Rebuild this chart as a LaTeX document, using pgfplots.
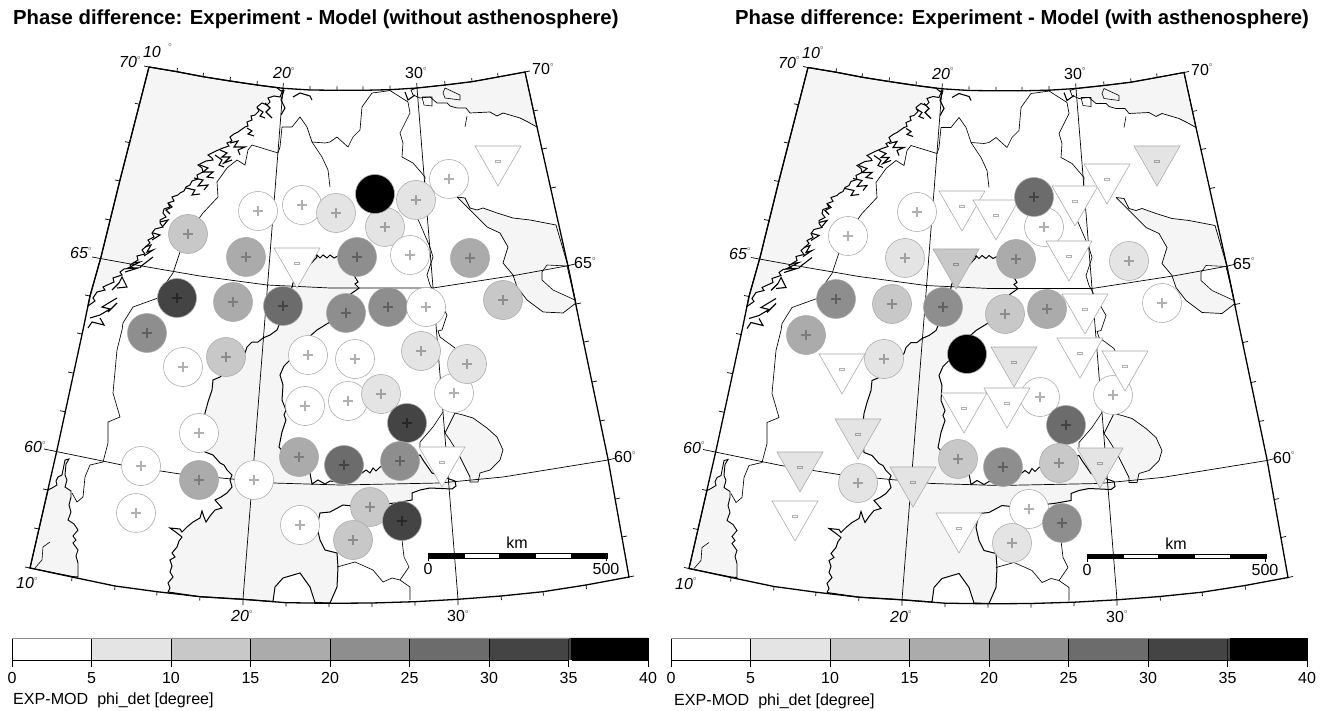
\documentclass[border=0pt]{standalone}
\usepackage{pgfplots}
\usepackage{pgfplotstable}
\usepackage{fontspec}
\setmainfont{Liberation Sans}
\pgfplotsset{compat=1.18}
\definecolor{sea}{HTML}{F5F5F5}
\definecolor{L0}{HTML}{FFFFFF}\definecolor{L1}{HTML}{E4E4E4}\definecolor{L2}{HTML}{C8C8C8}\definecolor{L3}{HTML}{ABABAB}
\definecolor{L4}{HTML}{8E8E8E}\definecolor{L5}{HTML}{6C6C6C}\definecolor{L6}{HTML}{444444}\definecolor{L7}{HTML}{000000}
\definecolor{S0}{HTML}{B0B0B0}\definecolor{S1}{HTML}{A0A0A0}\definecolor{S2}{HTML}{8C8C8C}\definecolor{S3}{HTML}{7C7C7C}
\definecolor{S4}{HTML}{606060}\definecolor{S5}{HTML}{444444}\definecolor{S6}{HTML}{262626}\definecolor{S7}{HTML}{000000}
\definecolor{edge}{HTML}{A8A8A8}
\newcommand\defmarks[3]{%
 \pgfdeclareplotmark{c#1}{%
  \pgfsetlinewidth{0.55pt}\pgfsetstrokecolor{edge}\pgfsetfillcolor{#2}%
  \pgfpathcircle{\pgfpointorigin}{19.5pt}\pgfusepath{fill,stroke}%
  \pgfsetstrokecolor{#3}\pgfsetlinewidth{1.5pt}%
  \pgfpathmoveto{\pgfpoint{-5pt}{0pt}}\pgfpathlineto{\pgfpoint{5pt}{0pt}}%
  \pgfpathmoveto{\pgfpoint{0pt}{-5pt}}\pgfpathlineto{\pgfpoint{0pt}{5pt}}\pgfusepath{stroke}}%
 \pgfdeclareplotmark{t#1}{%
  \pgfsetlinewidth{0.55pt}\pgfsetstrokecolor{edge}\pgfsetfillcolor{#2}%
  \pgfpathmoveto{\pgfpoint{-23pt}{15pt}}\pgfpathlineto{\pgfpoint{23pt}{15pt}}\pgfpathlineto{\pgfpoint{0pt}{-25pt}}\pgfpathclose\pgfusepath{fill,stroke}%
  \pgfsetstrokecolor{#3}\pgfsetlinewidth{0.6pt}%
  \pgfpathrectangle{\pgfpoint{-2.4pt}{-1.1pt}}{\pgfpoint{4.8pt}{2.2pt}}\pgfusepath{stroke}}}
\defmarks{0}{L0}{S0}\defmarks{1}{L1}{S1}\defmarks{2}{L2}{S2}\defmarks{3}{L3}{S3}
\defmarks{4}{L4}{S4}\defmarks{5}{L5}{S5}\defmarks{6}{L6}{S6}\defmarks{7}{L7}{S7}

\pgfplotstableread{
x y
149 67
177 71.7
203 76.7
230 81
257 85
277 87.7
281 91
283 90
280 97
274 96
268 98
270 102
267 105
262 103
257 107
259 111
255 115
251 116
252 120
247 122
248 126
245 127
238 132
234 134
230 137
232 141
227 143
229 146
223 148
216 151
208 155
212 158
213 160
206 161
198 165
202 168
203 172
197 175
198 179
192 181
190 185
186 187
184 191
180 193
178 195
172 197
174 201
168 203
170 207
164 209
163 213
166 217
160 220
160 223
163 227
155 229
152 233
154 237
148 240
150 243
142 250
145 254
137 256
138 260
130 265
133 268
124 269
120 272
122 275
113 278
114 282
103 287
105 290
97 292
93 298
95 301
88 306
90 296
101 257
120 180
149 67
}\Norway
\pgfplotstableread{
x y
48 490
52 488
57 485
56 481
58 477
62 475
63 470
65 460
69 459
66 464
65 475
67 480
65 487
71 491
71 497
69 505
71 512
68 520
74 524
78 530
73 536
76 540
73 543
78 550
76 556
78 563
78 577
72 576.5
30 568
48 490
}\Skag
\pgfplotstableread{
x y
168 592
170 588
168 583
173 577
170 572
172 566
170 560
175 557
172 553
177 547
179 541
182 537
177 533
170 528
180 529
182 532
187 527
193 522
200 518
202 511
204 517
206 522
210 516
215 510
222 508
215 500
221 497
227 493
232 487
230 480
232 475
227 470
224 465
220 463
213 455
205 452
203 432
205 413
208 402
210 396
212 390
213 380
220 377
226 372
233 365
240 358
245 353
247 347
252 342
258 342
263 338
270 335
277 330
285 310
290 295
293 283
305 270
317 257
316 254
320 258
323 255
327 258
330 255
334 258
338 256
345 258
355 277
358 282
355 284
359 288
355 291
352 293
340 303
330 322
317 330
300 345
295 352
290 360
284 366
280 375
283 385
282 400
286 410
284 415
286 420
282 432
279 447
290 460
310 473
312 484
318 480
325 484
330 481
338 482
345 480
362 473
366 470
370 473
373 468
376 471
380 467
400 460
420 455
423 460
432 473
455 481
456 486
452 489
430 488
420 490
412 493
412 500
395 503
375 505
360 502
352 506
343 505
330 512
320 513
317 527
320 540
325 550
337 553
338 567
337 587
330 603
315 602.5
310 587
300 573
283 578
275 587
273 601.5
243 599.3
200 596.7
168 592
}\Baltic
\pgfplotstableread{
x y
455 413
463 415
473 418
487 428
497 437
503 450
500 460
490 470
480 473
478 482
470 482
470 477
463 463
458 453
450 440
445 433
450 423
455 413
}\Ladoga
\pgfplotstableread{
x y
417 88
445 85
472 81.7
498 77
525 72
537 127
528 122
520 118
503 113
497 116
490 112
470 113
466 108
457 108
450 106
447 103
437 103
430 97
420 98
413 95
411 90
417 88
}\Barents
\pgfplotstableread{
x y
457 197
465 198
470 208
477 210
483 208
497 213
513 218
530 220
556 225
568 266
576 303
563 313
543 312
527 300
517 287
513 275
503 263
508 247
500 233
487 227
477 217
468 208
457 197
}\WhiteSea
\pgfplotstableread{
x y
547 265
567 266
575 300
553 290
542 280
542 272
547 265
}\WhiteHole
\pgfplotstableread{
x y
422 97
432 97
432 106
424 105
422 97
nan nan
445 88
460 95
460 100
445 98
443 93
445 88
nan nan
465 127
467 116
nan nan
35 568
42 560
43 547
50 542
}\Loops
\pgfplotstableread{
x y
282 127
280 147
278 153
252 145
248 150
245 165
237 160
227 168
217 182
218 197
203 213
187 235
180 252
173 273
163 287
158 298
133 307
123 323
122 330
117 350
113 393
120 417
108 422
108 443
103 462
90 465
85 477
83 497
77 502
72 493
nan nan
282 127
292 127
300 117
307 127
312 142
325 143
330 142
337 137
348 147
353 137
360 130
362 107
372 93
380 92
390 90.5
408 102
410 113
403 127
400 133
403 143
402 157
413 163
425 177
424 200
417 217
430 247
433 257
427 275
430 285
447 315
442 330
438 331
440 337
455 348
460 360
nan nan
443 412
433 427
420 442
420 447
nan nan
312 142
322 157
328 170
330 187
nan nan
402 521
402 540
404 557
409 567
400 580
410 587
410 600
nan nan
337 567
355 562
373 570
383 582
392 578
400 580
}\Borders
\pgfplotstableread{
x y
265 103
270 108
266 112
272 118
nan nan
257 108
263 112
260 116
265 118
nan nan
247 128
252 131
248 134
254 136
nan nan
230 143
238 141
234 147
245 147
238 150
240 155
nan nan
220 150
227 153
222 157
230 157
224 163
232 160
nan nan
215 155
222 160
219 165
224 167
nan nan
200 165
208 168
203 172
213 172
207 177
214 178
nan nan
194 178
203 180
198 186
208 185
204 190
nan nan
186 188
195 190
192 195
200 194
nan nan
168 203
172 207
166 210
170 214
nan nan
160 222
168 220
163 226
nan nan
153 233
160 235
152 240
nan nan
145 247
151 245
147 252
153 250
144 256
nan nan
153 257
140 267
nan nan
133 263
140 262
128 268
138 268
125 272
nan nan
117 288
127 287
122 277
119 283
112 290
nan nan
117 298
102 307
110 309
100 315
90 318
nan nan
117 303
108 312
nan nan
100 318
104 325
92 322
88 328
nan nan
284 90
281 100
285 108
281 115
nan nan
293 97
300 93
310 96
312 100
nan nan
405 92
408 100
415 95
}\Fjords
\pgfplotstableread{
x y
283 88
243 599.3
nan nan
417 88
458 599.3
nan nan
92 257
140 265.7
200 276
267 285
330 288
433 288
517 275
568 265.7
575 264
nan nan
44 449
122 465
180 474
273 483
340 485
440 483
503 477
608 460
616 458
}\Grat
\pgfplotstableread{
x y
149 67
177 71.7
203 76.7
230 81
257 85
283 88.3
310 90
337 90.3
363 90.3
390 89.7
417 88
445 85
472 81.7
498 77
525 72
537 127
568 266
580 325
608 459
629 577
586 585
543 591.7
501 596
458 599.3
415 601.7
372 603
329 603.3
286 602.7
243 599.3
200 596.7
157 591.7
115 586
72 577
30 568
57 450
83 330
90 296
101 257
120 180
149 67
}\Frame
\pgfplotstableread{
x y
139.5 104.3
135 103.3
nan nan
130 142.7
125 141.7
nan nan
120 181
115 180
nan nan
110 220
105 219
nan nan
90 296
85 295
nan nan
82 334
77 333
nan nan
73 373
68 372
nan nan
65 411.7
60 410.7
nan nan
48 490
43 489
nan nan
39 529
34 528
nan nan
30 568
25 567
nan nan
149 67
144 66
nan nan
177 71.7
177.5 68
nan nan
203 76.7
203.5 73
nan nan
230 81
230.5 77
nan nan
257 85
257.3 81
nan nan
283 88.3
283.3 83
nan nan
310 90
310 86
nan nan
337 90.3
337 86.3
nan nan
363 90.3
363 86.3
nan nan
390 89.7
390 85.7
nan nan
417 88
416.7 83
nan nan
445 85
444.7 81
nan nan
472 81.7
471.7 78
nan nan
498 77
497.7 73
nan nan
525 72
530 71
nan nan
533.5 111
538 110
nan nan
542 149
547 148
nan nan
551 188
556 187
nan nan
576 304
581 303
nan nan
584 342
589 341
nan nan
592 382
597 381
nan nan
600 421
605 420
nan nan
615.6 499
620 498
nan nan
622 537
627 536
nan nan
629 577
634 576
nan nan
72 577
71.7 581
nan nan
115 586
114.7 590
nan nan
157 591.7
156.7 595.5
nan nan
200 596.7
199.7 600.5
nan nan
243 599.3
243 605
nan nan
286 602.7
286 606.5
nan nan
329 603.3
329 607
nan nan
372 603
372 607
nan nan
415 601.7
415 605.5
nan nan
458 599.3
458 605
nan nan
501 596
501.5 600
nan nan
543 591.7
543.5 595.5
nan nan
586 585
586.5 589
}\Ticks

\pgfplotstableread{
x y c
188 234 c2
258 211 c0
302 205 c0
246 257 c3
297 263 t0
177 298 c6
233 302 c3
283 306 c5
449 179 c0
498 161 t0
336 213 c1
385 227 c1
375 194 c7
416 200 c1
410 255 c0
357 257 c4
470 258 c3
346 313 c4
388 307 c4
426 307 c0
503 300 c2
147 333 c4
183 367 c0
226 357 c2
308 355 c0
199 433 c0
141 466 c0
199 480 c3
254 480 c0
136 513 c0
305 406 c0
299 457 c3
300 525 c0
355 359 c0
421 351 c1
454 393 c0
467 364 c1
348 401 c0
381 394 c1
407 423 c6
344 465 c5
442 462 t0
400 461 c4
370 507 c2
353 540 c2
402 521 c6
}\MarksL

\pgfplotstableread{
x y c
848 236 c0
917 212 c0
962 206 t0
996 215 t0
905 258 c1
956 264 t2
836 299 c4
892 304 c2
943 307 c4
1044 227 c0
1075 201 t0
1034 197 c5
1107 179 t0
1157 161 t1
1016 259 c3
1069 256 t0
1129 261 c1
1005 314 c2
1047 309 c3
1085 309 t0
1162 303 c0
806 335 c3
842 369 t0
884 359 c1
967 354 c7
858 434 t1
800 467 t1
858 483 c1
913 482 t1
795 516 t0
964 408 t0
958 459 c2
959 528 t0
1040 397 c0
1014 362 t1
1080 353 t0
1113 395 c0
1125 366 t0
1007 403 t0
1066 425 c5
1003 467 c4
1059 463 c2
1100 463 t1
1029 509 c0
1012 543 c1
1062 523 c4
}\MarksR

\pgfplotsset{
 mapaxis/.style={scale only axis,axis lines=none,clip=false,y dir=reverse,anchor=south west,
   unbounded coords=jump,ymin=0,ymax=711},
 markplot/.style={scatter,only marks,point meta=explicit symbolic,
   scatter/classes={c0={mark=c0},c1={mark=c1},c2={mark=c2},c3={mark=c3},c4={mark=c4},c5={mark=c5},c6={mark=c6},c7={mark=c7},
     t0={mark=t0},t1={mark=t1},t2={mark=t2},t3={mark=t3},t4={mark=t4},t5={mark=t5},t6={mark=t6},t7={mark=t7}}},
 cbar/.style={scale only axis,width=636pt,height=22pt,anchor=south west,xmin=0,xmax=40,ymin=0,ymax=1,
   xtick={0,5,...,40},ytick=\empty,axis y line=none,axis x line=bottom,x axis line style={-,line width=1pt},
   tick align=outside,major tick length=7pt,tick style={black,line width=0.9pt},
   xticklabel style={font=\fontsize{16}{16}\selectfont,yshift=-1.5pt},/pgf/number format/assume math mode=true,clip=false},
}
\newcommand\bnode[3]{\node[anchor=center,inner sep=0pt,font=\fontsize{16}{16}\selectfont] at (axis cs:#1,#2) {#3};}
\newcommand\dg{\raisebox{1.0ex}{\fontsize{6.5}{6.5}\selectfont$\circ$}}
\newcommand\drawmap{%
 \addplot[fill=sea,draw=black,line width=1pt] table {\Norway};
 \addplot[fill=sea,draw=black,line width=0.9pt] table {\Skag};
 \addplot[fill=sea,draw=black,line width=1pt] table {\Baltic};
 \addplot[fill=sea,draw=black,line width=0.7pt] table {\Ladoga};
 \addplot[fill=sea,draw=black,line width=0.7pt] table {\Barents};
 \addplot[fill=sea,draw=black,line width=0.7pt] table {\WhiteSea};
 \addplot[fill=L0,draw=black,line width=0.6pt] table {\WhiteHole};
 \addplot[black,line width=0.6pt] table {\Loops};
 \addplot[black,line width=0.65pt] table {\Borders};
 \addplot[black,line width=1.1pt] table {\Fjords};
 \addplot[black,line width=0.7pt] table {\Grat};
 \addplot[black,line width=1.3pt] table {\Frame};
 \addplot[black,line width=0.7pt] table {\Ticks};
 \addplot[fill=black,draw=black,line width=0.5pt] coordinates {(428,553.5)(464,553.5)(464,558)(428,558)(428,553.5)};
 \addplot[fill=white,draw=black,line width=0.5pt] coordinates {(464,553.5)(499,553.5)(499,558)(464,558)(464,553.5)};
 \addplot[fill=black,draw=black,line width=0.5pt] coordinates {(499,553.5)(535,553.5)(535,558)(499,558)(499,553.5)};
 \addplot[fill=white,draw=black,line width=0.5pt] coordinates {(535,553.5)(571,553.5)(571,558)(535,558)(535,553.5)};
 \addplot[fill=black,draw=black,line width=0.5pt] coordinates {(571,553.5)(607,553.5)(607,558)(571,558)(571,553.5)};
 \addplot[black,line width=0.8pt] coordinates {(428,553)(428,561)};
 \addplot[black,line width=0.8pt] coordinates {(606.7,553)(606.7,561)};
 \bnode{517}{543}{km}
 \bnode{428}{569}{0}
 \bnode{606}{569}{500}
 \bnode{130}{62}{\itshape 70\dg}
 \bnode{284}{73}{\itshape 20\dg}
 \bnode{416}{73}{30\dg}
 \bnode{543}{69}{70\dg}
 \bnode{81}{253}{\itshape 65\dg}
 \bnode{585}{263}{65\dg}
 \bnode{35}{447}{\itshape 60\dg}
 \bnode{625}{457}{60\dg}
 \bnode{27}{583}{\itshape 10\dg}
 \bnode{242}{616}{\itshape 20\dg}
 \bnode{458}{616}{30\dg}
}
\newcommand\cbarfill{%
 \addplot[fill=L0,draw=black,line width=0.9pt] coordinates {(0,0)(5,0)(5,1)(0,1)(0,0)};
 \addplot[fill=L1,draw=black,line width=0.9pt] coordinates {(5,0)(10,0)(10,1)(5,1)(5,0)};
 \addplot[fill=L2,draw=black,line width=0.9pt] coordinates {(10,0)(15,0)(15,1)(10,1)(10,0)};
 \addplot[fill=L3,draw=black,line width=0.9pt] coordinates {(15,0)(20,0)(20,1)(15,1)(15,0)};
 \addplot[fill=L4,draw=black,line width=0.9pt] coordinates {(20,0)(25,0)(25,1)(20,1)(20,0)};
 \addplot[fill=L5,draw=black,line width=0.9pt] coordinates {(25,0)(30,0)(30,1)(25,1)(25,0)};
 \addplot[fill=L6,draw=black,line width=0.9pt] coordinates {(30,0)(35,0)(35,1)(30,1)(30,0)};
 \addplot[fill=L6,draw=none] coordinates {(35,0)(35.2,0)(35.2,1)(35,1)(35,0)};
 \addplot[fill=L7,draw=black,line width=0.9pt] coordinates {(35.2,0)(40,0)(40,1)(35.2,1)(35.2,0)};
 \addplot[draw=L4,line width=0.9pt] coordinates {(0,1)(35,1)};
}
\begin{document}
\begin{tikzpicture}[x=1pt,y=1pt]
\path[use as bounding box] (0,0) rectangle (1328,711);
\begin{axis}[mapaxis,at={(0pt,0pt)},width=660pt,height=711pt,xmin=0,xmax=660]
 \drawmap
 \addplot[markplot] table[x=x,y=y,meta=c] {\MarksL};
 \bnode{152}{52}{\itshape 10}
 \bnode{170}{49}{\dg}
 \node[anchor=west,inner sep=0pt,font=\fontsize{20.3}{21}\selectfont\bfseries] at (axis cs:13,19) {Phase difference: Experiment - Model (without asthenosphere)};
 \node[anchor=west,inner sep=0pt,font=\fontsize{16.1}{17}\selectfont] at (axis cs:13,700.5) {EXP-MOD\ \ phi\_det [degree]};
\end{axis}
\begin{axis}[mapaxis,at={(659pt,0pt)},width=669pt,height=711pt,xmin=0,xmax=669,ymin=-0.5,ymax=710.5]
 \drawmap
 \addplot[markplot] table[x expr=\thisrow{x}-659,y expr=\thisrow{y}-0.5,meta=c] {\MarksR};
 \bnode{154}{52}{\itshape 10\dg}
 \node[anchor=west,inner sep=0pt,font=\fontsize{20.3}{21}\selectfont\bfseries] at (axis cs:76,19) {Phase difference: Experiment - Model (with asthenosphere)};
 \node[anchor=west,inner sep=0pt,font=\fontsize{16.1}{17}\selectfont] at (axis cs:15,700.5) {EXP-MOD\ \ phi\_det [degree]};
\end{axis}
\begin{axis}[cbar,at={(12pt,51pt)}]
 \cbarfill
\end{axis}
\begin{axis}[cbar,at={(671pt,50.5pt)}]
 \cbarfill
\end{axis}
\end{tikzpicture}
\end{document}
